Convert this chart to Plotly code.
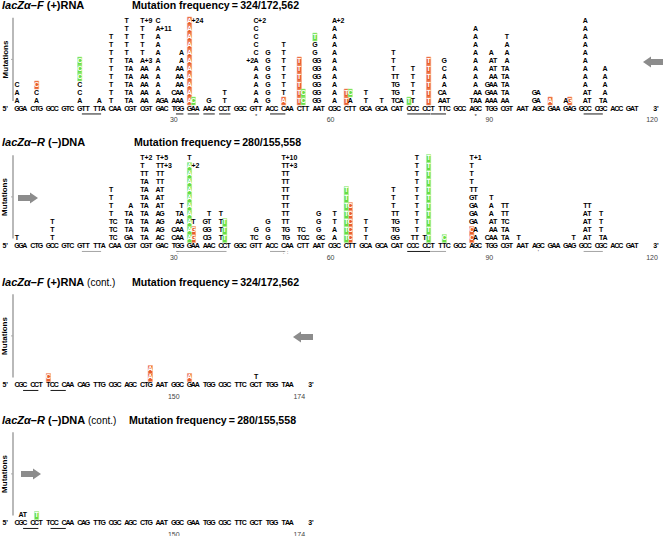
import plotly.graph_objects as go

# ---------------- data ----------------
seq_main = ("GGA CTG GCC GTC GTT TTA CAA CGT CGT GAC TGG GAA AAC CCT GGC GTT ACC CAA CTT AAT "
            "CGC CTT GCA GCA CAT CCC CCT TTC GCC AGC TGG CGT AAT AGC GAA GAG GCC CGC ACC GAT")
seq_cont = "CGC CCT TCC CAA CAG TTG CGC AGC CTG AAT GGC GAA TGG CGC TTC GCT TGG TAA"

panel_titles = ["<b><i>lacZα–F</i> (+)RNA</b>",
                "<b><i>lacZα–R</i> (–)DNA</b>",
                "<b><i>lacZα–F</i> (+)RNA</b><span style='font-size:10px'> (cont.)</span>",
                "<b><i>lacZα–R</i> (–)DNA</b><span style='font-size:10px'> (cont.)</span>"]
freq_values = ["324/172,562", "280/155,558", "324/172,562", "280/155,558"]

tick_labels_main = ["30", "60", "90", "120"]
tick_slots_main = [40, 80, 120.5, 162]
tick_labels_cont = ["150", "174"]
tick_slots_cont = [40, 72]

# mutation stacks: sequence slot -> letters from the bottom row upward
stack_F = {0: "AAC", 5: "ACC", 16: "ACCCCC", 21: "A", 24: "T" * 9, 28: "T" * 11, 29: "A" * 6,
           32: "A" * 6 + "T" * 5, 33: "A" * 5, 36: "A" * 10 + "C", 37: "G", 38: "A", 40: "AC",
           41: "A" * 5, 42: "A" * 7, 44: "A" * 11, 45: "C", 49: "G", 53: "TT",
           61: "A" * 6 + "C" * 5, 64: "G" * 7, 68: "A" + "T" * 7, 72: "T" * 6, 73: "CC",
           76: "G" * 8 + "T", 77: "G" * 6, 81: "A" * 11, 84: "TT", 85: "AC", 89: "TT", 93: "T",
           96: "T" * 7, 97: "CGGT", 98: "A", 100: "T", 101: "T" * 5, 105: "T" * 6, 108: "AC",
           109: "AAAACG", 110: "T", 116: "T", 117: "A" * 10, 118: "AA", 120: "AGG", 121: "A" * 7,
           122: "AAAATT", 124: "ATTTT", 125: "A" * 8 + "T", 132: "GG", 133: "AA", 136: "A",
           140: "A", 141: "G", 145: "A" * 11, 146: "TT", 149: "T", 150: "A" * 5}
# boxes: o = orange, g = green, . = none
box_F = {5: "..o", 16: "...ggg", 44: "o" * 11, 45: "g", 68: "o" + "." * 7, 72: "o" * 6, 73: "gg",
         76: "." * 8 + "g", 84: "oo", 85: ".g", 100: "g", 105: "o" * 6, 136: "o", 141: "o"}
plus_F = [(32, 11, "+9", "r"), (36, 10, "+11", "r"), (32, 6, "+3", "r"), (44, 11, "+24", "r"),
          (61, 11, "+2", "r"), (61, 6, "+2", "l"), (81, 11, "+2", "r")]

stack_R = {0: "T", 9: "TTT", 24: "T" * 7, 25: "CCC", 28: "GTTT", 29: "A" * 5, 32: "T" * 11,
           33: "A" * 8 + "T", 36: "A" * 7 + "T" * 4, 37: "CGGG" + "T" * 6, 40: "CC", 41: "AAAT",
           42: "AAAAT", 44: "A" * 10 + "T", 45: "GGT", 48: "CGG", 49: "GGTT", 52: "TTTT",
           53: "TTT", 60: "T", 61: "CG", 64: "GGG", 68: "T" * 11, 69: "GG" + "T" * 8, 72: "TT",
           73: "CC", 74: "C", 77: "GGGG", 78: "C", 81: "AATT", 84: "T" * 7, 85: "C" * 5,
           89: "TTT", 96: "G" + "T" * 6, 97: "GGGT", 101: "T", 102: "T" * 11, 104: "T",
           105: "T" * 11, 109: "C", 116: "CCGGGG" + "T" * 5, 117: "A" * 5 + "TT", 120: "C",
           121: "A" * 5 + "T", 122: "AAT", 124: "T" * 5, 125: "AACTT", 128: "T", 142: "T",
           145: "AAAAT", 146: "T" * 5, 149: "TTTT", 150: "A"}
box_R = {44: "g" * 10 + ".", 45: "oo.", 53: "ggg", 84: "g" * 7, 85: "o" * 5, 105: "g" * 11,
         109: "g", 116: "oo" + "." * 9}
plus_R = [(32, 11, "+2", "r"), (36, 11, "+5", "r"), (37, 10, "+3", "r"), (44, 10, "+2", "r"),
          (68, 11, "+10", "r"), (69, 10, "+3", "r"), (116, 11, "+1", "r")]

stack_Fc = {8: "C", 34: "AA", 44: "A", 61: "T"}
box_Fc = {8: "o", 34: "oo", 44: "o"}
stack_Rc = {1: "A", 2: "T", 5: "T"}
box_Rc = {5: "g"}

# underlined sequence stretches (first slot, last slot, colour key)
ul_F = [(17, 21, "k"), (41, 42, "k"), (44, 46, "k"), (48, 50, "k"), (52, 54, "k"), (65, 68, "k"),
        (100, 105, "k"), (106, 109, "k"), (145, 149, "k")]
ul_R = [(17, 21, "g"), (41, 53, "g"), (65, 68, "g"), (100, 105, "k"), (106, 109, "g"), (145, 149, "g")]
ul_cont = [(2, 5, "k"), (9, 12, "k")]

marks_F = [(61, -0.9, "*"), (117, -0.9, "*")]
marks_R = [(41, -0.8, ":"), (41, -1.7, "·"), (68, -0.8, ":"), (69, -0.8, ":"), (133, -0.8, "'")]

# ---------------- layout helpers ----------------
W, H = 664, 536
X0, PITCH = 17.0, 3.92           # pixel of slot 0, pixels per slot
ROW = 8.0                        # pixels per stacked row
seq_y_px = [109, 246.5, 385.5, 523.5]
arrows = [(653, 62, -1), (28, 198, 1), (303, 337, -1), (31, 474, 1)]
freq_x_px = [130, 132, 130, 127]

FONT = "Liberation Sans Narrow, Arial Narrow, Liberation Sans, Arial, sans-serif"
TFONT = "Liberation Sans, Arial, sans-serif"
ORANGE, GREEN = "#E95E2B", "#66DE45"
GREY = "#8c8c8c"
LS = 7.0  # letter size

panels = [
    dict(seq=seq_main, stack=stack_F, box=box_F, plus=plus_F, ul=ul_F, marks=marks_F,
         tl=tick_labels_main, ts=tick_slots_main),
    dict(seq=seq_main, stack=stack_R, box=box_R, plus=plus_R, ul=ul_R, marks=marks_R,
         tl=tick_labels_main, ts=tick_slots_main),
    dict(seq=seq_cont, stack=stack_Fc, box=box_Fc, plus=[], ul=ul_cont, marks=[],
         tl=tick_labels_cont, ts=tick_slots_cont),
    dict(seq=seq_cont, stack=stack_Rc, box=box_Rc, plus=[], ul=ul_cont, marks=[],
         tl=tick_labels_cont, ts=tick_slots_cont),
]

xr = [(0 - X0) / PITCH, (W - X0) / PITCH]
YR = [-1.5, 13.5]


def slot_of_px(px):
    return (px - X0) / PITCH


fig = go.Figure()
layout = dict(width=W, height=H, margin=dict(l=0, r=0, t=0, b=0), paper_bgcolor="white",
              plot_bgcolor="rgba(0,0,0,0)", showlegend=False, barmode="overlay",
              font=dict(family=FONT, color="black"))
annotations, shapes = [], []

for i, p in enumerate(panels):
    sfx = "" if i == 0 else str(i + 1)
    xa, ya = "x" + sfx, "y" + sfx
    y0 = seq_y_px[i]
    top_px, bot_px = y0 - ROW * YR[1], y0 - ROW * YR[0]
    layout["xaxis" + sfx] = dict(domain=[0, 1], range=xr, visible=False, fixedrange=True, anchor=ya)
    layout["yaxis" + sfx] = dict(domain=[1 - bot_px / H, 1 - top_px / H], range=YR, visible=False,
                                 fixedrange=True, anchor=xa)
    txtfont = dict(family=FONT, size=LS, color="black", weight="bold")

    # sequence
    sx = [k for k, ch in enumerate(p["seq"]) if ch != " "]
    fig.add_trace(go.Scatter(x=sx, y=[0] * len(sx), text=[p["seq"][k] for k in sx], mode="text",
                             textfont=txtfont, cliponaxis=False, hoverinfo="skip", xaxis=xa, yaxis=ya))
    end_slot = len(p["seq"]) + 4.0
    fig.add_trace(go.Scatter(x=[-3.0, end_slot], y=[0, 0], text=["5'", "3'"], mode="text",
                             textfont=txtfont, cliponaxis=False, hoverinfo="skip", xaxis=xa, yaxis=ya))

    # mutation letters
    plain_x, plain_y, plain_t = [], [], []
    boxed = {"o": ([], [], []), "g": ([], [], [])}
    for s, letters in p["stack"].items():
        mask = p["box"].get(s, "." * len(letters))
        for r, (ch, m) in enumerate(zip(letters, mask), start=1):
            if m == ".":
                plain_x.append(s); plain_y.append(r); plain_t.append(ch)
            else:
                boxed[m][0].append(s); boxed[m][1].append(r); boxed[m][2].append(ch)
    for key, col, lcol in (("o", ORANGE, "#F6A27F"), ("g", GREEN, "#B5F2A0")):
        bx, by, bt = boxed[key]
        if bx:
            fig.add_trace(go.Bar(x=bx, y=[1] * len(bx), base=[r - 0.5 for r in by], width=1.1,
                                 marker=dict(color=col, line=dict(color=lcol, width=0.6)),
                                 cliponaxis=False, hoverinfo="skip", xaxis=xa, yaxis=ya))
            fig.add_trace(go.Scatter(x=bx, y=by, text=bt, mode="text",
                                     textfont=dict(family=FONT, size=LS, color="white", weight="bold"),
                                     cliponaxis=False, hoverinfo="skip", xaxis=xa, yaxis=ya))
    fig.add_trace(go.Scatter(x=plain_x, y=plain_y, text=plain_t, mode="text", textfont=txtfont,
                             cliponaxis=False, hoverinfo="skip", xaxis=xa, yaxis=ya))

    # extra counts (+n)
    for side in ("r", "l"):
        items = [e for e in p["plus"] if e[3] == side]
        if items:
            off = 0.5 if side == "r" else -0.5
            fig.add_trace(go.Scatter(x=[e[0] + off for e in items], y=[e[1] for e in items],
                                     text=[e[2] for e in items], mode="text",
                                     textposition="middle right" if side == "r" else "middle left",
                                     textfont=txtfont, cliponaxis=False, hoverinfo="skip",
                                     xaxis=xa, yaxis=ya))

    # underlines
    for key, col in (("k", "black"), ("g", "#9a9a9a")):
        ux, uy = [], []
        for a, b, c in p["ul"]:
            if c == key:
                ux += [a - 0.45, b + 0.45, None]
                uy += [-0.62, -0.62, None]
        if ux:
            fig.add_trace(go.Scatter(x=ux, y=uy, mode="lines", line=dict(color=col, width=0.9),
                                     cliponaxis=False, hoverinfo="skip", xaxis=xa, yaxis=ya))

    # marks below the sequence
    if p["marks"]:
        fig.add_trace(go.Scatter(x=[m[0] for m in p["marks"]], y=[m[1] for m in p["marks"]],
                                 text=[m[2] for m in p["marks"]], mode="text",
                                 textfont=dict(family=FONT, size=6, color="#333"),
                                 cliponaxis=False, hoverinfo="skip", xaxis=xa, yaxis=ya))

    # position labels
    fig.add_trace(go.Scatter(x=p["ts"], y=[-1.45] * len(p["ts"]), text=p["tl"], mode="text",
                             textfont=dict(family=TFONT, size=7, color="#444"),
                             cliponaxis=False, hoverinfo="skip", xaxis=xa, yaxis=ya))

    # titles
    annotations.append(dict(x=slot_of_px(0), y=13.0, xref=xa, yref=ya, text=panel_titles[i],
                            showarrow=False, xanchor="left", yanchor="middle",
                            font=dict(family=TFONT, size=11)))
    annotations.append(dict(x=slot_of_px(freq_x_px[i]), y=13.0, xref=xa, yref=ya,
                            text="<b>Mutation frequency\u2009=\u2009" + freq_values[i] + "</b>",
                            showarrow=False, xanchor="left", yanchor="middle",
                            font=dict(family=TFONT, size=10.6)))
    # y-axis line, tick and label
    ax_s = slot_of_px(13)
    shapes.append(dict(type="line", xref=xa, yref=ya, x0=ax_s, x1=ax_s, y0=1.0, y1=11.4,
                       line=dict(color="#a8a8a8", width=1.6)))
    shapes.append(dict(type="line", xref=xa, yref=ya, x0=ax_s, x1=ax_s - 0.5, y0=6.2, y1=6.2,
                       line=dict(color="#a8a8a8", width=1)))
    annotations.append(dict(x=slot_of_px(5), y=6.2, xref=xa, yref=ya, text="<b>Mutations</b>",
                            textangle=-90, showarrow=False, xanchor="center", yanchor="middle",
                            font=dict(family=TFONT, size=8)))

    # direction arrow
    cx, cy, d = arrows[i]
    L, hl, hh, sh = 20, 8, 11, 6
    pts = [(-L / 2, -sh / 2), (L / 2 - hl, -sh / 2), (L / 2 - hl, -hh / 2), (L / 2, 0),
           (L / 2 - hl, hh / 2), (L / 2 - hl, sh / 2), (-L / 2, sh / 2)]
    path = ""
    for k, (dx, dy) in enumerate(pts):
        px, py = cx + d * dx, cy + dy
        path += ("M" if k == 0 else "L") + f"{px / W:.5f},{1 - py / H:.5f} "
    shapes.append(dict(type="path", xref="paper", yref="paper", path=path + "Z",
                       fillcolor=GREY, line=dict(width=0)))

layout["annotations"] = annotations
layout["shapes"] = shapes
fig.update_layout(**layout)
fig.write_html("out.html", config={"displayModeBar": False, "staticPlot": True},
               post_script="document.body.style.margin='0px';document.body.style.overflow='hidden';")
